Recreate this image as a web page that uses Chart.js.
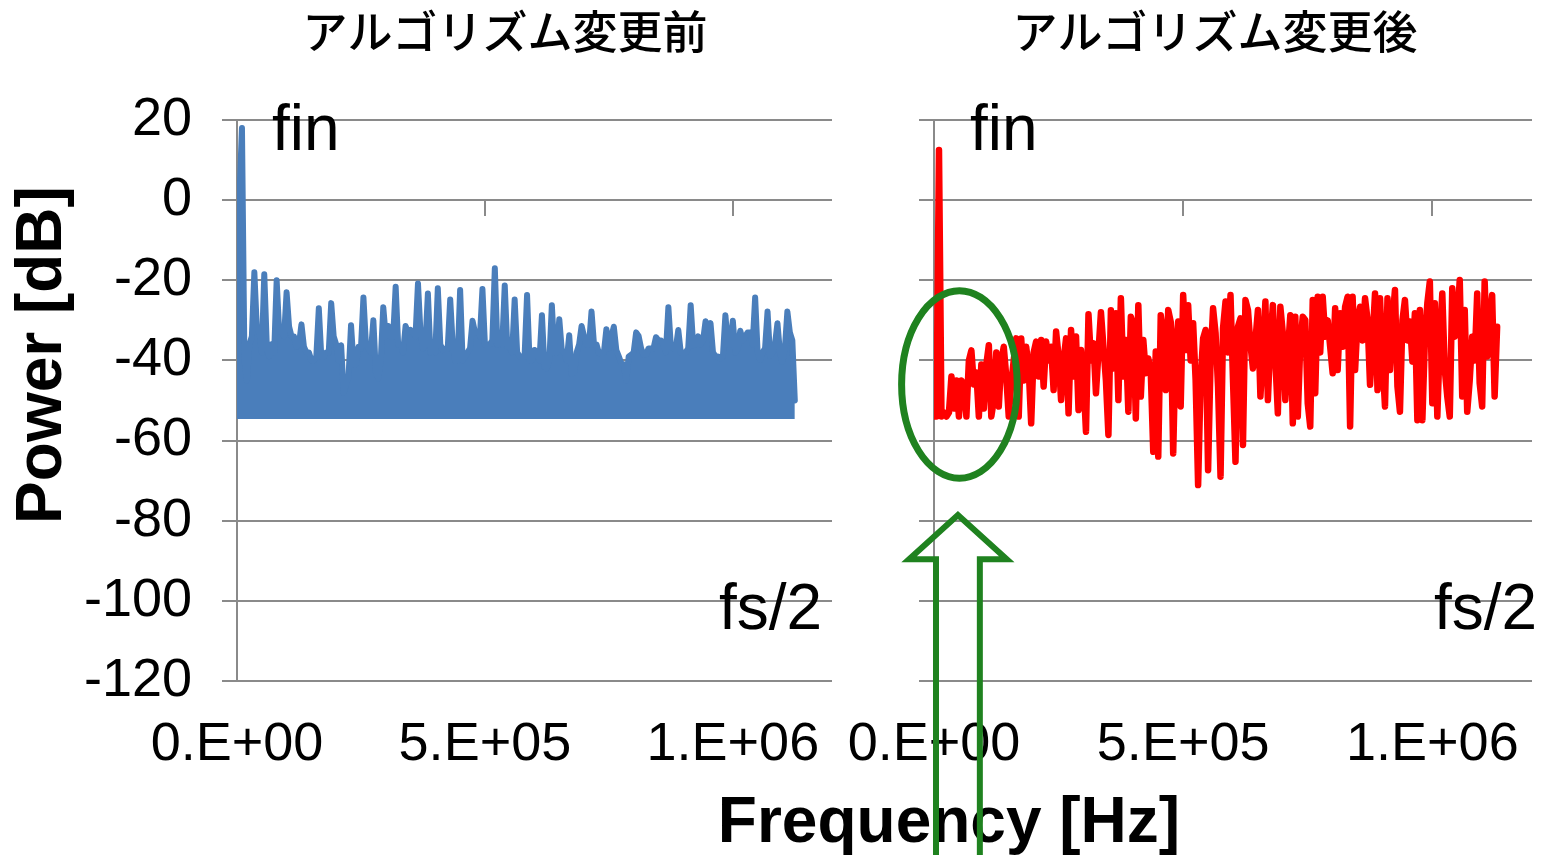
<!DOCTYPE html>
<html lang="ja">
<head>
<meta charset="utf-8">
<title>アルゴリズム変更前後のスペクトル</title>
<script src="https://cdn.jsdelivr.net/npm/chart.js@4/dist/chart.umd.min.js"></script>
<style>
  html, body { margin: 0; padding: 0; background: #ffffff; }
  #wrap { position: relative; width: 1544px; height: 855px; overflow: hidden; }
  #wrap canvas { position: absolute; left: 0; top: 0; }
</style>
</head>
<body>
<div id="wrap">
  <canvas id="before" width="1544" height="855"></canvas>
  <canvas id="after" width="1544" height="855"></canvas>
</div>
<script>
// Spacing of the FFT bins in both spectra (Hz)
const BIN_HZ = 5000;

// Power spectrum before the algorithm change (dB per bin, starting at 0 Hz)
const powerBeforeDb = [
  1, 1, 18, -40, -45, -36, -34, -18, -32, -33,
  -38, -18.5, -36, -39, -36, -38, -20, -32.7, -33, -34,
  -23, -31.5, -34, -34, -36.6, -36, -31, -36.6, -38, -38,
  -40, -40, -39, -27, -39, -39, -38, -38, -25.7, -34,
  -36, -40, -36.2, -48, -46, -44, -31.2, -41, -41, -36.6,
  -37, -24.3, -36, -37, -38, -30, -43, -44.5, -40, -26.7,
  -34, -31.4, -34, -34, -21.6, -36, -36, -38, -31.4, -33,
  -32.4, -33, -34, -20.8, -33, -37, -36, -23.3, -38, -37.4,
  -38, -22, -36, -37.4, -37, -37, -24.8, -36, -40, -40,
  -22.4, -40, -39, -38, -37, -30.1, -33, -32.8, -34, -22.2,
  -36, -36, -36, -35, -17, -36, -35, -36, -21.3, -36.5,
  -36.6, -38, -24.8, -38, -39, -39, -39, -23.7, -40, -40,
  -37.4, -38, -40, -28.7, -41.6, -42, -40, -26.2, -38, -38,
  -29.7, -37.4, -38, -40, -33.7, -43.4, -43, -38, -36, -31.4,
  -34, -36, -36, -27.8, -36, -36, -38.2, -38, -38, -32.2,
  -37, -34, -31.6, -37.4, -39, -40.7, -41, -45, -39, -38.6,
  -38, -33, -33.9, -37, -38.6, -38.6, -37, -37, -37, -34.2,
  -35, -35, -36, -38, -26.7, -36.6, -37, -37, -32.4, -38,
  -38, -38, -37, -26.2, -36.2, -36, -34, -36, -35, -30.2,
  -33, -30.7, -38, -39, -39, -39.5, -39, -28.7, -36, -36,
  -30.1, -38, -37, -32.6, -35, -34, -33, -33, -36, -24.3,
  -38, -39.9, -38, -37, -27.8, -38.9, -38, -36, -30.7, -38,
  -40.3, -37, -27.8, -33, -35, -50
];

// Power spectrum after the algorithm change (dB per bin, starting at 0 Hz)
const powerAfterDb = [
  -54, -54, 12.5, -54, -53, -54, -53, -44, -52, -45,
  -54, -45, -46, -54, -40, -37.5, -46, -43, -54, -41,
  -52, -41, -36.2, -54, -50, -38, -51.5, -40, -36.6, -44,
  -54, -45.7, -40, -34.5, -54, -34.5, -45, -36.6, -42, -55.7,
  -38, -35.3, -44, -34.9, -46.5, -35.3, -40, -36.6, -47.4, -32.8,
  -39, -49.9, -40, -34.5, -53.2, -32.4, -44, -34, -52.4, -37.4,
  -45, -57.8, -28.5, -40, -35.7, -48.2, -38, -28, -36.6, -45,
  -58.6, -27.5, -42, -28.2, -49.9, -24.5, -44, -34.9, -52.8, -29.1,
  -31, -54.5, -26.2, -49, -34.9, -43.2, -39.5, -43, -62.8, -37.8,
  -64, -28.7, -33.2, -47.4, -27.4, -30.3, -63.2, -36, -30.3, -51.5,
  -23.7, -37.4, -26.2, -40, -30.7, -44.9, -71.1, -45, -34.5, -32.4,
  -67.4, -40, -27, -33.2, -46.5, -69, -32, -25.3, -38, -23.7,
  -44.9, -65.3, -31.6, -29.5, -61.1, -24.9, -27.4, -36, -42, -35,
  -27.4, -49, -38, -25.3, -49.9, -35, -26.2, -40, -53.2, -26.6,
  -33.2, -49.9, -38, -28.7, -55.7, -29.1, -54, -36, -29.1, -29.9,
  -50.7, -56.5, -24.9, -48.2, -24.1, -38, -24.1, -34.1, -30, -36.6,
  -43.2, -27, -42.4, -28.2, -36.6, -26.6, -24.1, -56.5, -24.1, -42.4,
  -30, -26.6, -35, -24.5, -29.9, -46.1, -35, -23.3, -47.4, -24.5,
  -40, -51.5, -24.5, -42.4, -30, -22.4, -46.5, -52.8, -30, -24.9,
  -35, -30.3, -40.3, -28.2, -54.9, -27.4, -54.9, -35, -25.7, -20.3,
  -50.7, -25.7, -54, -35, -23.3, -42.4, -49, -54, -22, -34.1,
  -30, -19.9, -49, -27.4, -52.8, -45, -34.1, -40, -23.3, -45.7,
  -51.5, -20.3, -39, -30, -23.7, -49, -31.6
];

// Axis ticks
const freqTicksHz = [0, 500000, 1000000];
const freqTickLabels = ['0.E+00', '5.E+05', '1.E+06'];
const powerTicksDb = [20, 0, -20, -40, -60, -80, -100, -120];

// Texts
const panelTitles = ['アルゴリズム変更前', 'アルゴリズム変更後'];
const markerLabels = ['fin', 'fs/2'];
const axisTitles = { x: 'Frequency [Hz]', y: 'Power [dB]' };

const FREQ_MAX_HZ = 1200000;
const POWER_MIN_DB = -120;
const POWER_MAX_DB = 20;
const FLOOR_DB = -54.6;

const LATIN = '"Liberation Sans", Arial, Helvetica, sans-serif';
const CJK = '"Noto Sans CJK JP", "Noto Sans CJK SC", sans-serif';
const GRID = '#8a8a8a';
const BLUE = '#4a7ebb';
const RED = '#ff0000';
const GREEN = '#1f821f';

const W = 1544, H = 855;

function toPoints(values) {
  return values.map((v, i) => ({ x: i * BIN_HZ, y: v }));
}

// Pin axis sizes so the plot areas sit at fixed spots on the page
function fixedSize(width, height) {
  return function (scale) {
    if (width !== null) scale.width = width;
    if (height !== null) scale.height = height;
    scale.paddingLeft = 0; scale.paddingRight = 0;
    scale.paddingTop = 0; scale.paddingBottom = 0;
  };
}

// Short tick marks hanging from the 0 dB line, where the horizontal axis crosses
const zeroLineTicks = {
  id: 'zeroLineTicks',
  beforeDatasetsDraw(chart) {
    const { ctx, scales: { x, y } } = chart;
    const y0 = Math.round(y.getPixelForValue(0));
    ctx.save();
    ctx.strokeStyle = GRID;
    ctx.lineWidth = 2;
    freqTicksHz.forEach(f => {
      if (f === 0) return;
      const px = Math.round(x.getPixelForValue(f));
      ctx.beginPath();
      ctx.moveTo(px, y0);
      ctx.lineTo(px, y0 + 16);
      ctx.stroke();
    });
    ctx.restore();
  }
};

function panelText(cfg) {
  return {
    id: 'panelText',
    afterDraw(chart) {
      const ctx = chart.ctx;
      ctx.save();
      ctx.fillStyle = '#000000';
      ctx.textAlign = 'center';
      ctx.textBaseline = 'middle';
      ctx.font = '500 45px ' + CJK;
      ctx.fillText(cfg.title, cfg.titleX, 32);

      ctx.textAlign = 'left';
      ctx.textBaseline = 'alphabetic';
      ctx.font = '64px ' + LATIN;
      ctx.fillText(markerLabels[0], cfg.finX, 150);
      ctx.fillText(markerLabels[1], cfg.fsX, 629);
      ctx.restore();
      if (cfg.extra) cfg.extra(chart);
    }
  };
}

function drawPowerTitle(chart) {
  const ctx = chart.ctx;
  ctx.save();
  ctx.translate(61, 355);
  ctx.rotate(-Math.PI / 2);
  ctx.fillStyle = '#000000';
  ctx.textAlign = 'center';
  ctx.textBaseline = 'alphabetic';
  ctx.font = 'bold 64px ' + LATIN;
  ctx.fillText(axisTitles.y, 0, 0);
  ctx.restore();
}

// Frequency title plus the green highlight around the low-frequency floor
function drawAfterNotes(chart) {
  const { ctx, scales: { x, y } } = chart;
  ctx.save();
  ctx.fillStyle = '#000000';
  ctx.textAlign = 'center';
  ctx.textBaseline = 'alphabetic';
  ctx.font = 'bold 64px ' + LATIN;
  ctx.fillText(axisTitles.x, 949, 842);

  ctx.strokeStyle = GREEN;

  // ellipse around the 0-150 kHz region
  const cx = x.getPixelForValue(51000);
  const cy = y.getPixelForValue(-46);
  const rx = x.getPixelForValue(51000 + 116000) - cx;
  const ry = y.getPixelForValue(-46 - 23.4) - cy;
  ctx.lineWidth = 7;
  ctx.beginPath();
  ctx.ellipse(cx, cy, rx, ry, 0, 0, Math.PI * 2);
  ctx.stroke();

  // hollow arrow pointing up at the ellipse
  const ax = x.getPixelForValue(48000);
  const tipY = y.getPixelForValue(-78.6);
  const headY = y.getPixelForValue(-89.6);
  const headHalf = x.getPixelForValue(48000 + 98000) - ax;
  const shaftHalf = x.getPixelForValue(48000 + 44000) - ax;
  const bottom = H + 10;
  ctx.lineWidth = 6;
  ctx.lineJoin = 'miter';
  ctx.beginPath();
  ctx.moveTo(ax - shaftHalf, bottom);
  ctx.lineTo(ax - shaftHalf, headY);
  ctx.lineTo(ax - headHalf, headY);
  ctx.lineTo(ax, tipY);
  ctx.lineTo(ax + headHalf, headY);
  ctx.lineTo(ax + shaftHalf, headY);
  ctx.lineTo(ax + shaftHalf, bottom);
  ctx.stroke();
  ctx.restore();
}

function makePanel(canvasId, dataset, opts) {
  return new Chart(document.getElementById(canvasId), {
    type: 'line',
    data: { datasets: [dataset] },
    options: {
      responsive: false,
      animation: false,
      devicePixelRatio: 1,
      events: [],
      layout: { padding: { top: 120, right: opts.padRight, bottom: 0, left: 0 } },
      elements: { point: { radius: 0 }, line: { tension: 0 } },
      plugins: { legend: { display: false }, tooltip: { enabled: false }, title: { display: false } },
      scales: {
        x: {
          type: 'linear',
          min: 0,
          max: FREQ_MAX_HZ,
          afterBuildTicks: s => { s.ticks = freqTicksHz.map(v => ({ value: v })); },
          ticks: {
            autoSkip: false, maxRotation: 0, minRotation: 0, padding: 32,
            color: '#000000', font: { family: LATIN, size: 54 },
            callback: (v, i) => freqTickLabels[i]
          },
          grid: { display: false, drawTicks: false },
          border: { display: false },
          afterFit: fixedSize(null, H - 681)
        },
        y: {
          type: 'linear',
          min: POWER_MIN_DB,
          max: POWER_MAX_DB,
          afterBuildTicks: s => { s.ticks = powerTicksDb.map(v => ({ value: v })); },
          ticks: {
            display: opts.showYLabels, padding: 30,
            color: '#000000', font: { family: LATIN, size: 54 },
            callback: v => String(v)
          },
          grid: { color: GRID, lineWidth: 2, drawTicks: true, tickLength: 15, tickColor: GRID },
          border: { display: true, color: GRID, width: 2 },
          afterFit: fixedSize(opts.yWidth, null)
        }
      }
    },
    plugins: [zeroLineTicks, panelText(opts.text)]
  });
}

makePanel('before', {
  data: toPoints(powerBeforeDb),
  borderColor: BLUE,
  backgroundColor: BLUE,
  borderWidth: 6,
  borderJoinStyle: 'round',
  borderCapStyle: 'round',
  fill: { value: FLOOR_DB }
}, {
  padRight: W - 832,
  yWidth: 237,
  showYLabels: true,
  text: { title: panelTitles[0], titleX: 505, finX: 272, fsX: 719, extra: drawPowerTitle }
});

makePanel('after', {
  data: toPoints(powerAfterDb),
  borderColor: RED,
  backgroundColor: RED,
  borderWidth: 6.5,
  borderJoinStyle: 'round',
  borderCapStyle: 'round',
  fill: false
}, {
  padRight: W - 1532,
  yWidth: 934,
  showYLabels: false,
  text: { title: panelTitles[1], titleX: 1215, finX: 970, fsX: 1434, extra: drawAfterNotes }
});
</script>
</body>
</html>
